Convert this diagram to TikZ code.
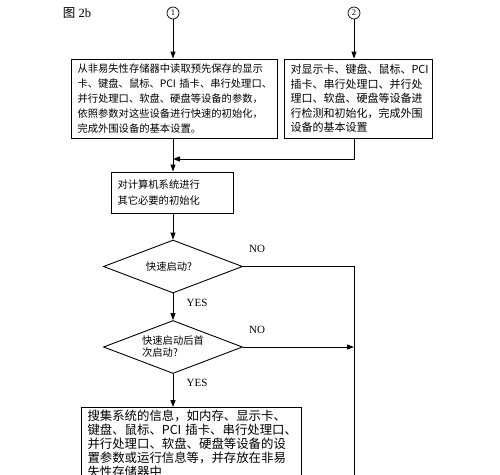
\documentclass[tikz,border=0pt]{standalone}
\usepackage{fontspec}
\setmainfont{Liberation Serif}
\newfontfamily\cjk{Noto Sans CJK SC}
\usetikzlibrary{shapes.geometric,arrows.meta}
\begin{document}
\begin{tikzpicture}[x=1pt,y=-1pt,
  line width=0.9pt,
  arr/.style={-{Triangle[length=7pt,width=5pt]}},
  box/.style={draw, rectangle, align=left, inner xsep=6.5pt, inner ysep=0pt},
  dec/.style={draw, diamond, aspect=2.6, minimum width=139pt, minimum height=53pt, inner sep=0pt, font=\cjk\fontsize{10.3}{12}\selectfont, align=left},
  lbl/.style={font=\fontsize{11}{12}\selectfont, inner sep=0pt},
  circ/.style={draw, circle, minimum size=12pt, inner sep=0pt, line width=0.7pt, font=\fontsize{8.5}{8.5}\selectfont}
]
\clip (0,0) rectangle (500,474);
\fill[white] (0,0) rectangle (500,474);

\node[font=\fontsize{12.5}{13}\selectfont, inner sep=0pt] (title) at (77,13) {{\cjk 图} 2b};
\node[circ] (c1) at (173,13) {1};
\node[circ] (c2) at (354,13) {2};

\node[box, text width=193pt, minimum height=79pt, font=\cjk\fontsize{10.3}{14.8}\selectfont] (b1) at (174,98.5)
{从非易失性存储器中读取预先保存的显示\\卡、键盘、鼠标、PCI~插卡、串行处理口、\\并行处理口、软盘、硬盘等设备的参数，\\依照参数对这些设备进行快速的初始化，\\完成外围设备的基本设置。};

\node[box, text width=135pt, minimum height=79pt, font=\cjk\fontsize{11}{14.5}\selectfont] (b2) at (358,98.5)
{对显示卡、键盘、鼠标、PCI\\插卡、串行处理口、并行处\\理口、软盘、硬盘等设备进\\行检测和初始化，完成外围\\设备的基本设置};

\node[box, text width=109pt, minimum height=41pt, font=\cjk\fontsize{10.3}{16}\selectfont] (b3) at (172,192.5)
{对计算机系统进行\\其它必要的初始化};

\node[dec] (d1) at (173,266.5) {\hspace*{-8pt}快速启动?};
\node[dec] (d2) at (173,347) {快速启动后首\\次启动?};

\node[box, anchor=north, text width=207pt, inner ysep=3pt, font=\cjk\fontsize{12.4}{14}\selectfont] (b4) at (191,407)
{搜集系统的信息，如内存、显示卡、\\键盘、鼠标、PCI~插卡、串行处理口、\\并行处理口、软盘、硬盘等设备的设\\置参数或运行信息等，并存放在非易\\失性存储器中};

\node[lbl] (y1) at (197,303) {YES};
\node[lbl] (y2) at (197,383) {YES};
\node[lbl] (n1) at (257,249) {NO};
\node[lbl] (n2) at (257,330) {NO};

\coordinate (m) at (173,159);
\coordinate (r1) at (354,266.5);
\coordinate (rb) at (354,480);

\draw[arr] (c1) -- (c1 |- b1.north);
\draw[arr] (c2) -- (c2 |- b2.north);
\draw[arr] (b1.south -| c1) -- (b3.north -| c1);
\draw[arr] (b2.south -| c2) |- (m);
\draw[arr] (b3.south -| d1) -- (d1.north);
\draw[arr] (d1.south) -- (d2.north);
\draw[arr] (d2.south) -- (d2.south |- b4.north);
\draw (d1.east) -- (r1) -- (rb);
\draw[arr] (d2.east) -- (d2.east -| r1);
\end{tikzpicture}
\end{document}
